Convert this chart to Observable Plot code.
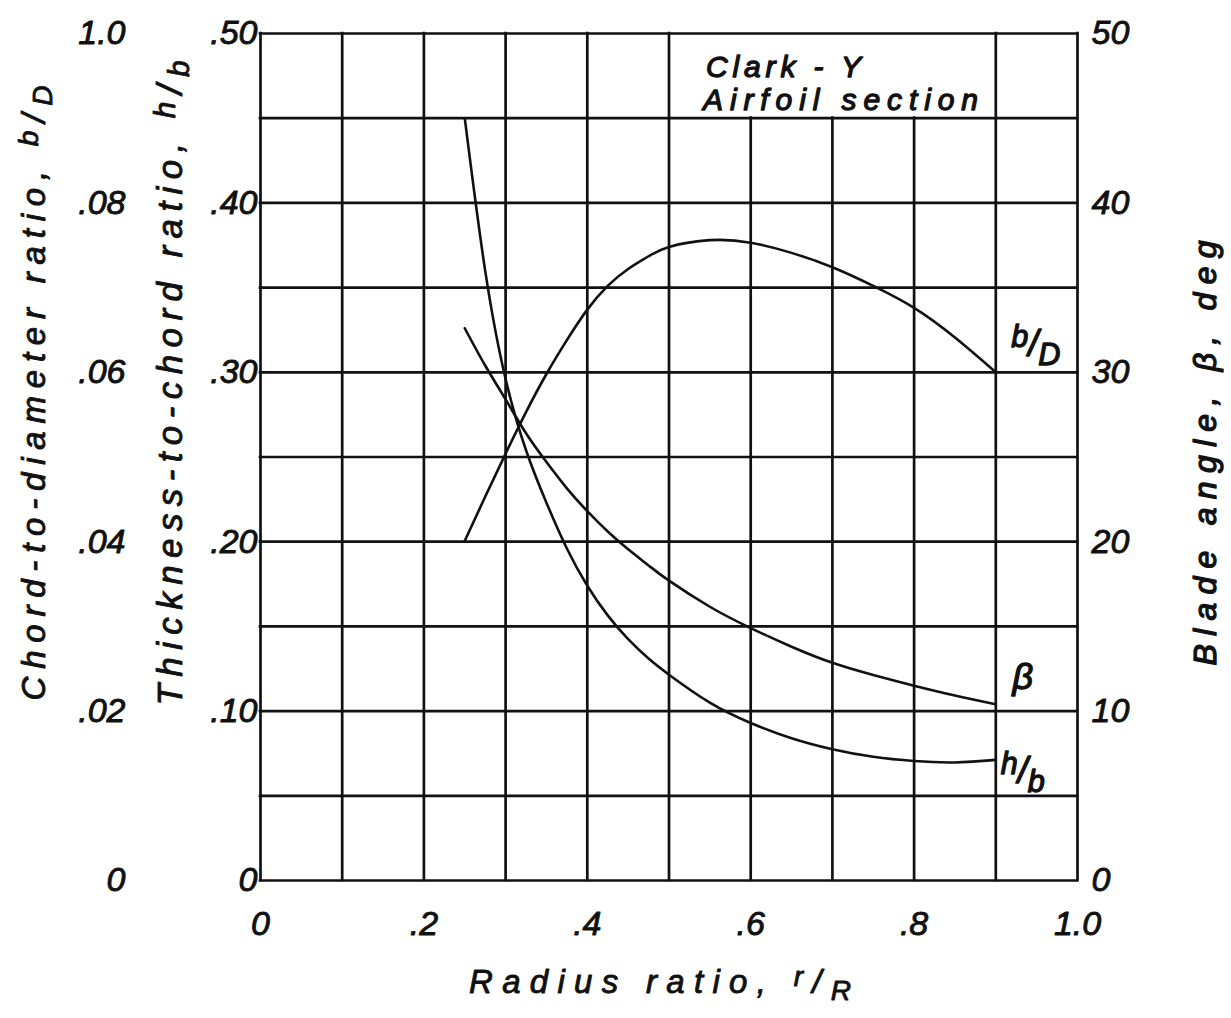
<!DOCTYPE html>
<html>
<head>
<meta charset="utf-8">
<script src="https://cdn.jsdelivr.net/npm/d3@7"></script>
<script src="https://cdn.jsdelivr.net/npm/@observablehq/plot@0.6"></script>
<style>
  html, body { margin: 0; padding: 0; background: #fff; }
  #chart svg { display: block; }
</style>
</head>
<body>
<div id="chart"></div>
<script>
// Radius ratio r/R at which the blade properties are read
const radiusRatio = [0.25, 0.275, 0.3, 0.325, 0.35, 0.375, 0.4, 0.425, 0.45, 0.475, 0.5, 0.55, 0.6, 0.65, 0.7, 0.75, 0.8, 0.85, 0.9];
// Chord-to-diameter ratio, b/D
const chordDiameter = [0.0401, 0.0453, 0.0504, 0.0553, 0.0598, 0.0638, 0.0674, 0.0702, 0.0722, 0.0737, 0.0748, 0.0756, 0.0753, 0.0741, 0.0724, 0.0702, 0.0676, 0.0641, 0.0600];
// Thickness-to-chord ratio, h/b
const thicknessChord = [0.450, 0.360, 0.296, 0.254, 0.223, 0.196, 0.174, 0.1565, 0.1425, 0.131, 0.1215, 0.105, 0.093, 0.084, 0.0775, 0.073, 0.0705, 0.0697, 0.0712];
// Blade angle, beta, deg
const bladeAngle = [32.6, 30.4, 28.4, 26.4, 24.7, 23.15, 21.8, 20.6, 19.55, 18.6, 17.7, 16.16, 14.9, 13.8, 12.85, 12.13, 11.5, 10.92, 10.4];

// Tick values and their printed labels
const xTicks = [0, 0.2, 0.4, 0.6, 0.8, 1.0];
const xTickLabels = ["0", ".2", ".4", ".6", ".8", "1.0"];
const hbTicks = [0, 0.1, 0.2, 0.3, 0.4, 0.5];
const hbTickLabels = ["0", ".10", ".20", ".30", ".40", ".50"];
const bdTicks = [0, 0.02, 0.04, 0.06, 0.08, 0.10];
const bdTickLabels = ["0", ".02", ".04", ".06", ".08", "1.0"];
const betaTicks = [0, 10, 20, 30, 40, 50];
const betaTickLabels = ["0", "10", "20", "30", "40", "50"];

// Grid spacing: 0.1 in r/R, 0.05 in h/b
const xGrid = d3.range(0, 11).map(i => i / 10);
const yGrid = d3.range(0, 11).map(i => i / 20);

// All three quantities share one vertical scale (h/b);
// b/D is read at 5x and beta (deg) at 1/100 of that scale.
const BD_FACTOR = 5;
const BETA_FACTOR = 1 / 100;

const bdSeries = radiusRatio.map((r, i) => ({r, v: chordDiameter[i] * BD_FACTOR}));
const hbSeries = radiusRatio.map((r, i) => ({r, v: thicknessChord[i]}));
const betaSeries = radiusRatio.map((r, i) => ({r, v: bladeAngle[i] * BETA_FACTOR}));
const last = a => [a[a.length - 1]];

const ink = "#111";
// hand-lettered look: italic sans, thickened with a thin stroke
const font = {fontFamily: "'Liberation Sans', Arial, sans-serif", fontStyle: "italic", fill: ink, stroke: ink, strokeWidth: 0.9};
const heavy = {...font, strokeWidth: 1.3};

const svg = Plot.plot({
  width: 1231,
  height: 1018,
  marginLeft: 260,
  marginRight: 154,
  marginTop: 33,
  marginBottom: 138,
  x: {domain: [0, 1], axis: null},
  y: {domain: [0, 0.5], axis: null},
  style: {background: "#fff"},
  marks: [
    // grid; the top row is left open behind the section note
    Plot.ruleY(yGrid, {y: d => d, x1: 0, x2: 1, stroke: ink, strokeWidth: 2.7, strokeLinecap: "square"}),
    Plot.ruleX(xGrid, {x: d => d, y1: 0, y2: d => (d > 0.55 && d < 0.85 ? 0.45 : 0.5), stroke: ink, strokeWidth: 2.7, strokeLinecap: "square"}),

    // curves
    Plot.line(bdSeries, {x: "r", y: "v", curve: "natural", stroke: ink, strokeWidth: 2.6}),
    Plot.line(hbSeries, {x: "r", y: "v", curve: "natural", stroke: ink, strokeWidth: 2.6}),
    Plot.line(betaSeries, {x: "r", y: "v", curve: "natural", stroke: ink, strokeWidth: 2.6}),

    // curve labels
    Plot.text(last(bdSeries), {x: "r", y: "v", text: () => "b/D", dx: 40, dy: -28, fontSize: 36, ...heavy}),
    Plot.text(last(betaSeries), {x: "r", y: "v", text: () => "β", dx: 27, dy: -27, fontSize: 36, ...heavy}),
    Plot.text(last(hbSeries), {x: "r", y: "v", text: () => "h/b", dx: 27, dy: 12, fontSize: 36, ...heavy}),

    // x tick labels
    Plot.text(xTicks, {x: d => d, frameAnchor: "bottom", text: (d, i) => xTickLabels[i], textAnchor: "middle", dy: 54, fontSize: 34, ...font}),
    // h/b tick labels (inner left column)
    Plot.text(hbTicks, {y: d => d, frameAnchor: "left", text: (d, i) => hbTickLabels[i], textAnchor: "end", dx: -3, fontSize: 34, ...font}),
    // b/D tick labels (outer left column)
    Plot.text(bdTicks, {y: d => d * BD_FACTOR, frameAnchor: "left", text: (d, i) => bdTickLabels[i], textAnchor: "end", dx: -135, fontSize: 34, ...font}),
    // beta tick labels (right column)
    Plot.text(betaTicks, {y: d => d * BETA_FACTOR, frameAnchor: "right", text: (d, i) => betaTickLabels[i], textAnchor: "start", dx: 14, fontSize: 34, ...font}),

    // axis titles
    Plot.text(["Chord-to-diameter ratio, b/D"], {frameAnchor: "left", text: d => d, textAnchor: "middle", rotate: -90, dx: -226, dy: -64, fontSize: 33, ...font}),
    Plot.text(["Thickness-to-chord ratio, h/b"], {frameAnchor: "left", text: d => d, textAnchor: "middle", rotate: -90, dx: -90, dy: -74, fontSize: 35, ...font}),
    Plot.text(["Blade angle, β, deg"], {frameAnchor: "right", text: d => d, textAnchor: "middle", rotate: -90, dx: 128, dy: -4, fontSize: 32, ...heavy}),
    Plot.text(["Radius ratio, r/R"], {frameAnchor: "bottom", text: d => d, textAnchor: "middle", dx: -9, dy: 112, fontSize: 33, ...font}),

    // section note
    Plot.text(["Clark - Y"], {frameAnchor: "top", text: d => d, textAnchor: "start", dx: 37, dy: 22, fontSize: 30, ...heavy}),
    Plot.text(["Airfoil section"], {frameAnchor: "top", text: d => d, textAnchor: "start", dx: 34, dy: 55, fontSize: 30, ...heavy})
  ]
});

document.getElementById("chart").append(svg);

// Typeset slashed fractions (b/D, h/b, r/R) and spread the lettering.
const allText = d3.select(svg).selectAll("text");
function find(content) {
  return allText.filter(function () { return this.textContent === content; });
}
function fraction(content, prefix, num, den, rise) {
  const sel = find(content);
  sel.text(prefix);
  sel.append("tspan").attr("dy", -rise).attr("font-size", "0.85em").text(num);
  sel.append("tspan").attr("dy", rise).text("/");
  sel.append("tspan").attr("dy", rise).attr("font-size", "0.85em").text(den);
  return sel;
}
function spread(sel, length) {
  sel.attr("textLength", length).attr("lengthAdjust", "spacing");
}

spread(fraction("Chord-to-diameter ratio, b/D", "Chord-to-diameter ratio, ", "b", "D", 7), 615);
spread(fraction("Thickness-to-chord ratio, h/b", "Thickness-to-chord ratio, ", "h", "b", 7), 645);
spread(fraction("Radius ratio, r/R", "Radius ratio, ", "r", "R", 7), 382);
fraction("b/D", "", "b", "D", 9);
fraction("h/b", "", "h", "b", 9);
spread(find("Blade angle, β, deg"), 425);
spread(find("Clark - Y"), 155);
spread(find("Airfoil section"), 275);
</script>
</body>
</html>
